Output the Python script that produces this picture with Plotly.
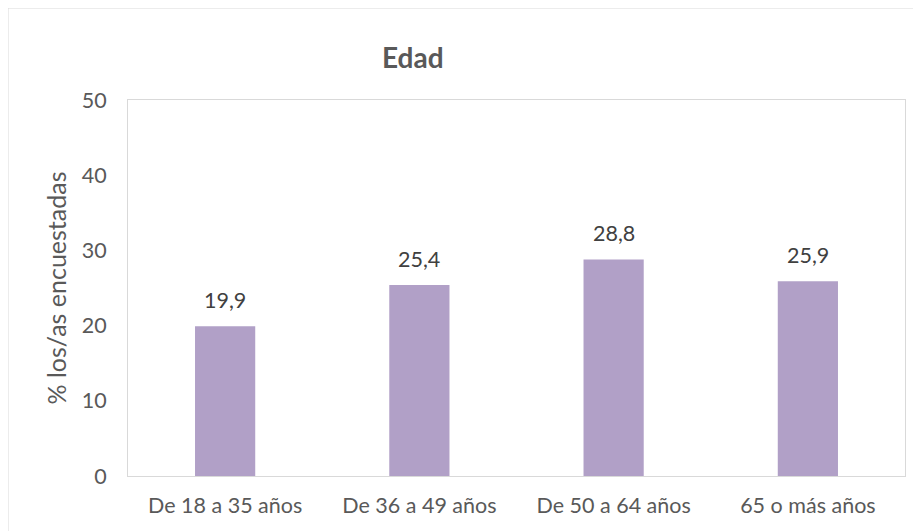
import plotly.graph_objects as go

categories = ["De 18 a 35 años", "De 36 a 49 años", "De 50 a 64 años", "65 o más años"]
values = [19.9, 25.4, 28.8, 25.9]
labels = ["19,9", "25,4", "28,8", "25,9"]
tick_vals = [0, 10, 20, 30, 40, 50]

OFF = 8  # page body margin
W, H = 921 - OFF, 531 - OFF
L, R, T, B = 128 - OFF, 16, 100 - OFF, 55
pw, ph = W - L - R, H - T - B

def px_x(x):
    return (x - OFF - L) / pw

def px_y(y):
    return (H - B - (y - OFF)) / ph

FONT = "Lato"
GRAY = "#595959"

fig = go.Figure(go.Bar(
    x=categories, y=values,
    marker=dict(color="#B1A0C7", line=dict(width=0)),
))

annotations = [dict(text="<b>Edad</b>", xref="paper", yref="paper",
                    x=px_x(413), y=px_y(57), showarrow=False,
                    font=dict(family=FONT, size=28, color=GRAY),
                    xanchor="center", yanchor="middle")]
for c, v, t in zip(categories, values, labels):
    annotations.append(dict(text=t, x=c, y=v, xref="x", yref="y", showarrow=False,
                            yanchor="bottom", yshift=11,
                            font=dict(family=FONT, size=21.5, color="#404040")))

fig.update_layout(
    width=W, height=H,
    margin=dict(l=L, r=R, t=T, b=B),
    paper_bgcolor="white", plot_bgcolor="white",
    bargap=0.69,
    showlegend=False,
    font=dict(family=FONT, color=GRAY),
    xaxis=dict(showgrid=False, showline=True, linecolor="#D9D9D9", linewidth=1, mirror=True,
               tickfont=dict(family=FONT, size=21.5, color=GRAY), ticks="", ticklen=0,
               ticklabelstandoff=10),
    yaxis=dict(range=[0, 50], tickvals=tick_vals, showgrid=False, zeroline=False,
               showline=True, linecolor="#D9D9D9", linewidth=1, mirror=True,
               ticks="", tickfont=dict(family=FONT, size=21.5, color=GRAY),
               ticklabelstandoff=16,
               title=dict(text="% los/as encuestadas", font=dict(family=FONT, size=25, color=GRAY), standoff=7)),
    annotations=annotations,
    shapes=[dict(type="rect", xref="paper", yref="paper",
                 x0=px_x(8), x1=px_x(940), y0=px_y(560), y1=px_y(8),
                 line=dict(color="#D9D9D9", width=1), layer="below")],
)

fig.write_html("out.html")
